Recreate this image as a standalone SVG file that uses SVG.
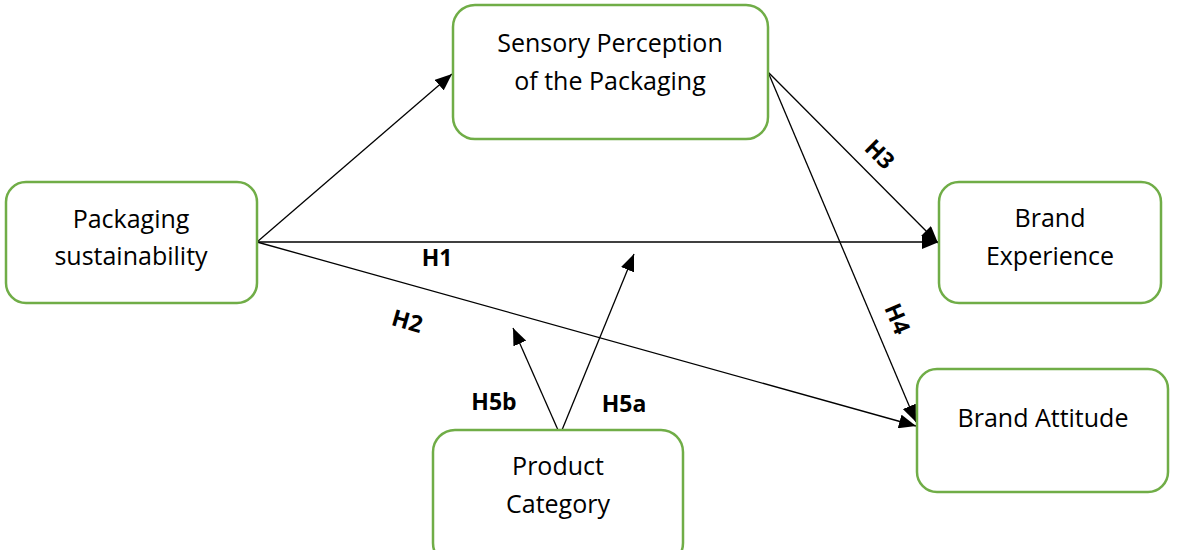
<svg xmlns="http://www.w3.org/2000/svg" width="1192" height="550" viewBox="0 0 1192 550">
  <style>
    .box { fill: #ffffff; stroke: #70ad47; stroke-width: 2.5; }
    .lbl { font-family: "Open Sans", "Liberation Sans", sans-serif; font-size: 25px; fill: #000000; text-anchor: middle; }
    .hyp { font-family: "Open Sans", "Liberation Sans", sans-serif; font-size: 23px; font-weight: bold; fill: #000000; text-anchor: middle; }
    .edge { stroke: #000000; stroke-width: 1.3; fill: none; marker-end: url(#arrow); }
  </style>
  <defs>
    <marker id="arrow" markerUnits="userSpaceOnUse" markerWidth="18" markerHeight="14" refX="17" refY="7" orient="auto">
      <path d="M0,0 L17,7 L0,14 Z" fill="#000000"/>
    </marker>
  </defs>
  <rect width="1192" height="550" fill="#ffffff"/>

  <g id="connectors">
    <line class="edge" x1="257" y1="242" x2="452" y2="74"/>
    <line class="edge" x1="257" y1="242" x2="939" y2="242"/>
    <line class="edge" x1="257" y1="242" x2="916" y2="426"/>
    <line class="edge" x1="768" y1="72" x2="938" y2="243"/>
    <line class="edge" x1="768" y1="72" x2="916" y2="422"/>
    <line class="edge" x1="558" y1="430" x2="513" y2="328"/>
    <line class="edge" x1="562" y1="430" x2="634" y2="254"/>
    <text class="hyp" x="437" y="266">H1</text>
    <text class="hyp" transform="translate(405,329) rotate(16)" x="0" y="0">H2</text>
    <text class="hyp" transform="translate(874,160) rotate(45)" x="0" y="0">H3</text>
    <text class="hyp" transform="translate(890,322) rotate(67)" x="0" y="0">H4</text>
    <text class="hyp" x="494" y="410">H5b</text>
    <text class="hyp" x="624" y="412">H5a</text>
  </g>

  <g id="packaging-sustainability">
    <rect class="box" x="6" y="182" width="251" height="121" rx="20"/>
    <text class="lbl" x="131" y="228">Packaging</text>
    <text class="lbl" x="131" y="265">sustainability</text>
  </g>

  <g id="sensory-perception">
    <rect class="box" x="453" y="5" width="315" height="134" rx="22"/>
    <text class="lbl" x="610" y="52">Sensory Perception</text>
    <text class="lbl" x="610" y="90">of the Packaging</text>
  </g>

  <g id="brand-experience">
    <rect class="box" x="939" y="182" width="222" height="121" rx="20"/>
    <text class="lbl" x="1050" y="227">Brand</text>
    <text class="lbl" x="1050" y="265">Experience</text>
  </g>

  <g id="brand-attitude">
    <rect class="box" x="917" y="369" width="251" height="123" rx="20"/>
    <text class="lbl" x="1043" y="427">Brand Attitude</text>
  </g>

  <g id="product-category">
    <rect class="box" x="433" y="430" width="250" height="135" rx="22"/>
    <text class="lbl" x="558" y="475">Product</text>
    <text class="lbl" x="558" y="513">Category</text>
  </g>
</svg>
